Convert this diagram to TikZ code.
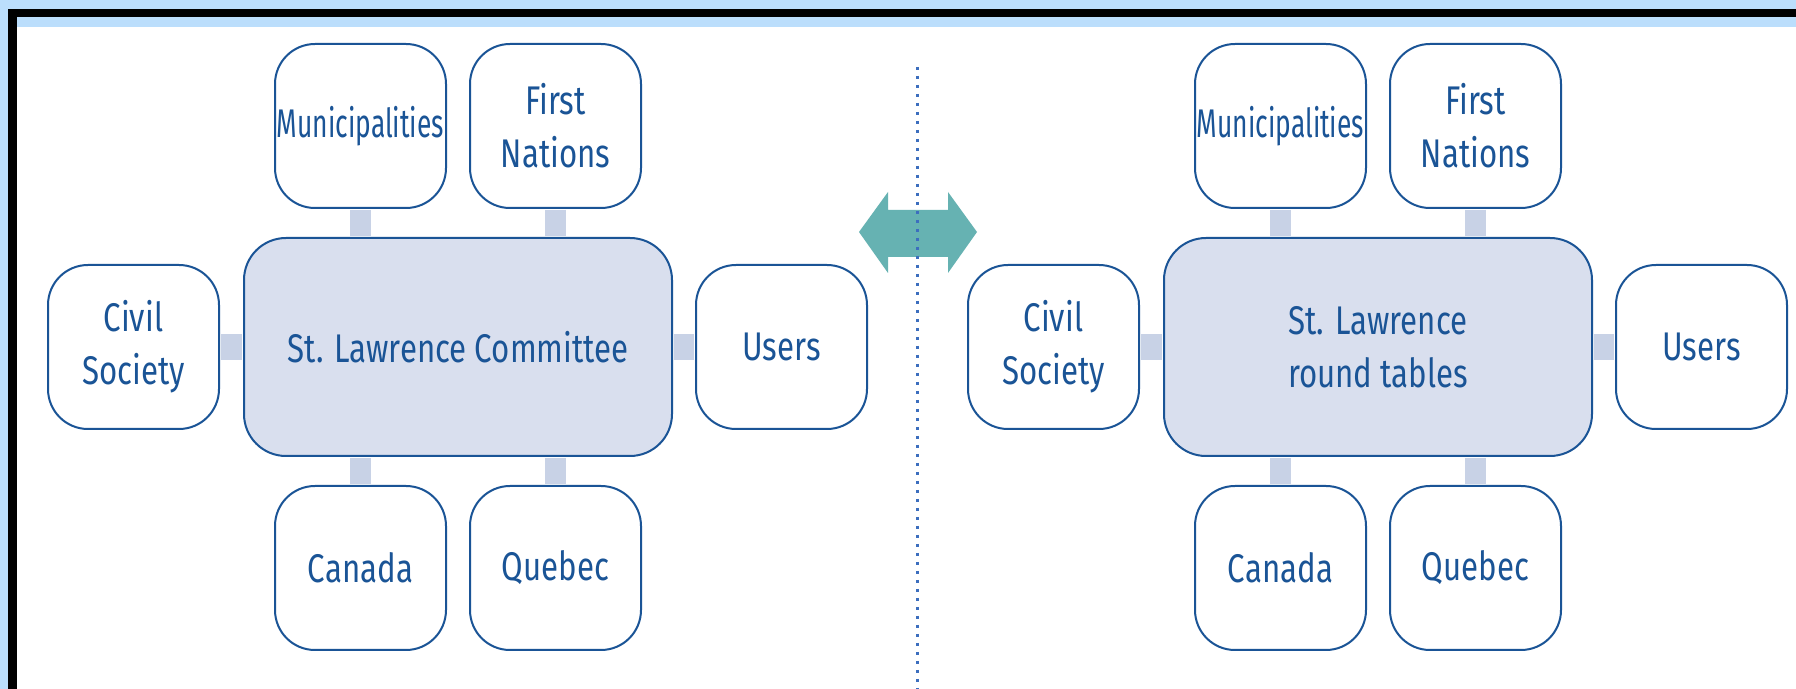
\documentclass[tikz,border=0pt]{standalone}
\usepackage{fontspec}
\setmainfont[FakeStretch=0.78]{Fira Sans}
\newfontfamily\tightfont[FakeStretch=0.66]{Fira Sans}
\usetikzlibrary{positioning}

\definecolor{framebg}{RGB}{187,222,252}
\definecolor{dkblue}{RGB}{26,84,150}
\definecolor{hubfill}{RGB}{217,223,238}
\definecolor{linkfill}{RGB}{200,210,230}
\definecolor{swapteal}{RGB}{102,178,178}
\definecolor{dotblue}{RGB}{60,110,190}

\begin{document}
\begin{tikzpicture}[x=0.5pt,y=-0.5pt,
    party/.style={draw=dkblue,line width=1pt,rounded corners=20pt,fill=white,
      text=dkblue,align=center,inner sep=0pt,
      minimum width=85.5pt,minimum height=82pt,
      font=\fontsize{20}{26.5}\selectfont},
    hub/.style={party,fill=hubfill,rounded corners=21pt,
      minimum width=214pt,minimum height=109pt},
    vlink/.style={draw=linkfill,line width=10.5pt,shorten <=0.5pt,shorten >=0.5pt},
    hlink/.style={draw=linkfill,line width=13pt,shorten <=0.5pt,shorten >=0.5pt}]
    \useasboundingbox (0,0) rectangle (1796,689);

    % frame
    \fill[framebg] (0,0) rectangle (1796,689);
    \fill[black] (8,9) rectangle (1796,689);
    \fill[framebg] (17,17) rectangle (1796,27);
    \fill[white] (17,27) rectangle (1796,689);

    % committee
    \node[hub] (lcen) at (458,347) {St. Lawrence Committee};
    \node[party,above=14pt of lcen.north,xshift=-48.75pt] (lmun) {\tightfont Municipalities};
    \node[party,above=14pt of lcen.north,xshift=48.75pt] (lfn) {First\\Nations};
    \node[party,left=11.5pt of lcen] (lciv) {Civil\\Society};
    \node[party,right=11pt of lcen] (lusr) {Users};
    \node[party,below=14pt of lcen.south,xshift=-48.75pt] (lcan) {Canada};
    \node[party,below=14pt of lcen.south,xshift=48.75pt] (lque) {Quebec};

    % round tables
    \node[hub] (rcen) at (1378,347) {St. Lawrence\\round tables};
    \node[party,above=14pt of rcen.north,xshift=-48.75pt] (rmun) {\tightfont Municipalities};
    \node[party,above=14pt of rcen.north,xshift=48.75pt] (rfn) {First\\Nations};
    \node[party,left=11.5pt of rcen] (rciv) {Civil\\Society};
    \node[party,right=11pt of rcen] (rusr) {Users};
    \node[party,below=14pt of rcen.south,xshift=-48.75pt] (rcan) {Canada};
    \node[party,below=14pt of rcen.south,xshift=48.75pt] (rque) {Quebec};

    % links
    \draw[vlink] (lmun) -- (lmun |- lcen.north);
    \draw[vlink] (lfn) -- (lfn |- lcen.north);
    \draw[vlink] (lcan) -- (lcan |- lcen.south);
    \draw[vlink] (lque) -- (lque |- lcen.south);
    \draw[hlink] (lciv) -- (lcen);
    \draw[hlink] (lusr) -- (lcen);
    \draw[vlink] (rmun) -- (rmun |- rcen.north);
    \draw[vlink] (rfn) -- (rfn |- rcen.north);
    \draw[vlink] (rcan) -- (rcan |- rcen.south);
    \draw[vlink] (rque) -- (rque |- rcen.south);
    \draw[hlink] (rciv) -- (rcen);
    \draw[hlink] (rusr) -- (rcen);

    % exchange arrow and divider
    \fill[swapteal] (859,232) -- (888,192) -- (888,210) -- (948,210) -- (948,192)
      -- (977,232) -- (948,273) -- (948,257) -- (888,257) -- (888,273) -- cycle;
    \draw[dotblue,line width=1.5pt,dash pattern=on 1.5pt off 3pt] (917,67) -- (917,689);

  \end{tikzpicture}
\end{document}
